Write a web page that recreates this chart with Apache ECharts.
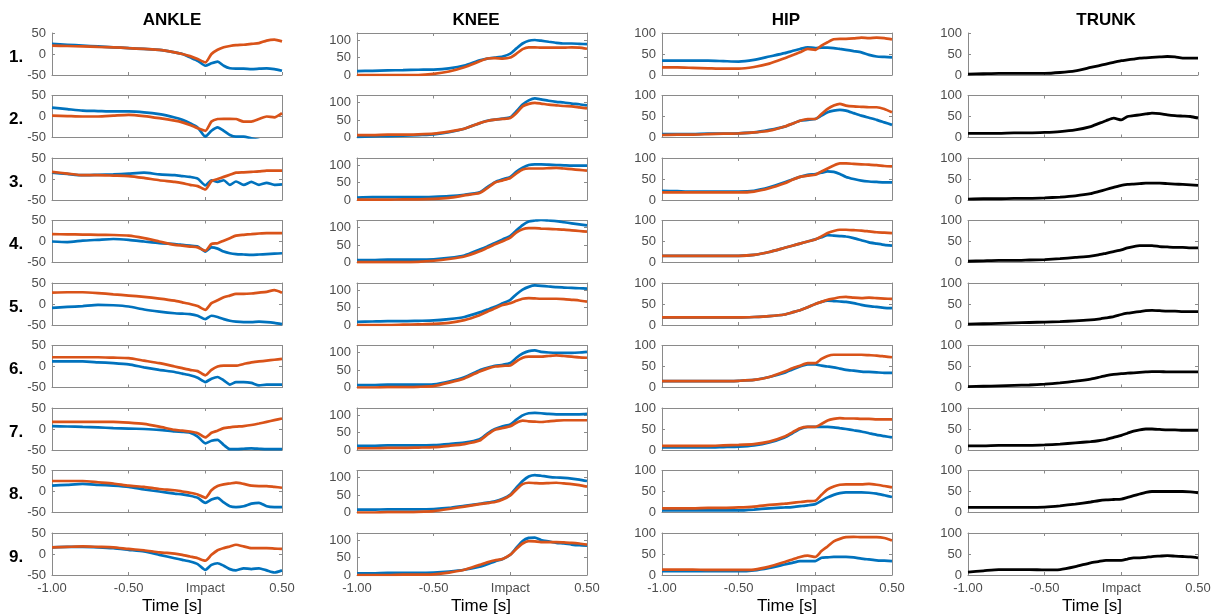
<!DOCTYPE html>
<html><head><meta charset="utf-8">
<script src="https://cdn.jsdelivr.net/npm/echarts@6/dist/echarts.min.js"></script>
<style>html,body{margin:0;padding:0;background:#fff}#c{width:1217px;height:616px}</style>
</head><body><div id="c"></div>
<script>
// ---------------- DATA ----------------
const T = [-1, -0.9, -0.8, -0.7, -0.6, -0.5, -0.4, -0.3, -0.2, -0.15, -0.1, -0.05, 0, 0.04, 0.08, 0.12, 0.16, 0.2, 0.25, 0.3, 0.35, 0.4, 0.45, 0.5];
const joints = ['ANKLE', 'KNEE', 'HIP', 'TRUNK'];
const rowLabels = ['1.', '2.', '3.', '4.', '5.', '6.', '7.', '8.', '9.'];
const xTickText = { '-1': '-1.00', '-0.5': '-0.50', '0': 'Impact', '0.5': '0.50' };
const xTitle = 'Time [s]';

const ankleBlue = [
  [24,22,20,18,16,14,12,10,4,0,-8,-16,-28,-22,-18,-28,-34,-35,-35,-36,-35,-34,-36,-40],
  [21,17.5,14,13,12,12,10,5.5,-2.4,-8,-16,-26,-48,-34,-26,-34,-44,-48,-48,-52,-56,-58,-60,-60],
  [15,12,9,10,11,13,15,11,9,7,5,1,-15,-3,-7,-3,-14,-6,-14,-7,-14,-9,-14,-13],
  [0,-1.5,2,4,6,4,0,-4,-6,-8,-10,-12,-24,-14,-17,-24,-28,-30,-31,-32,-31,-30,-29,-28],
  [-9,-7,-5,-2,-3,-6,-13,-18,-22,-23,-24,-28,-36,-28,-31,-36,-40,-42,-43,-43,-42,-43,-45,-48],
  [12,12,12,10,8,5,-2,-8,-13,-17,-21,-27,-37,-29,-25,-33,-43,-37,-37,-39,-45,-43,-43,-43],
  [7,6,5,4,2,1,0,-2,-6,-7,-9,-18,-34,-28,-26,-38,-48,-48,-47,-46,-47,-48,-48,-48],
  [14,16,18,16,14,11,5,0,-5,-7,-10,-15,-27,-19,-15,-26,-35,-37,-35,-29,-27,-35,-37,-37],
  [16,17,17,16,14,10,6,-2,-10,-14,-18,-24,-38,-26,-22,-28,-36,-39,-34,-36,-34,-39,-44,-39]
];
const ankleOrange = [
  [20,19,18,17,16,14,12,10,4,0,-5,-12,-20,0,10,16,19,21,22,24,26,32,34,30],
  [2,1,0,0,2,4,1,-4,-10,-14,-20,-28,-34,-12,-6,-5.5,-5.5,-6,-12,-12,-6,0,-2,8],
  [17,13,9,9,8,7,2.5,-3,-7,-10,-14,-17,-25,-5,0,5,10,15,16,17,18,20,20,20],
  [17.5,17,16.5,16,15.5,14,8,0,-8,-10,-12,-14,-22,-6,-4,2,8,14,16,17.5,19,20,20,20],
  [27,28,28,26,23,20,17,13,8,4,0,-5,-14,2,9,16,20,24,24,25,27,29,33,27],
  [22,22,22,22,21,20,14,8,0,-4,-8,-11,-21,-8,0,2,2,2,6,10,12,14,16,18],
  [17,17,17,17,17,15,12,5.5,-2,-4,-6,-10,-20,-9,-4,2,4,5.5,7,9.5,13,17,21,25],
  [25,25,25,22,19,14,11,6,3,0,-3,-7,-15,3,13,17,19,21,18,14,13,13,11,9],
  [16,17,18,17,16,12,9,4,1,-2,-6,-10,-16,-2,9,14,18,22,18,14,14,14,13,12]
];
const kneeBlue = [
  [11,12,13,14,15,15.5,19,27,42,47,50,53,61,76,90,98,100,98,95,92,90,90,89,88],
  [2,3,4,5,7,9,15,25,41,48,51,54,58,75,94,106,112,109,105,102,100,97,95,92],
  [7,8,8,8,8,9,11,15,22,37,51,59,66,81,92,100,102,102,101,100,99,98,98,98],
  [7,7,8,8,8,9,13,20,37,46,56,66,76,92,107,117,120,122,120,118,115,112,109,106],
  [9,10,11,11,12,13,17,23,36,44,52,62,72,88,101,109,113,112,110,108,107,106,105,104],
  [7,7,8,8,8,9,17,29,49,56,62,65,70,85,97,104,106,102,100,99,99,99,100,102],
  [12,12,13,13,13,14,17,21,31,47,60,68,73,87,99,105,106,105,103,102,102,102,102,103],
  [8,8,9,9,9,10,13,19,25,28,32,39,51,71,90,103,107,105,102,100,99,97,94,90],
  [5,5,6,6,6,7,10,15,24,31,39,46,58,78,97,106,107,100,96,92,90,87,85,84]
];
const kneeOrange = [
  [0,0,0,0,0,3,10,22,39,47,48.5,47,50,61,74,79,79,78,78,78,78,79,78,75],
  [7,7,8,8,9,11,17,25,41,47,51,53,56,70,89,96,99,97,94,92,90,89,86,83],
  [1,1,1,2,2,3,6,13,20,34,50,56,63,76,87,90,90,90,91,92,90,88,86,84],
  [1,1,1,1,2,5,10,17,32,42,52,61,71,86,95,98,98,97,96,95,94,92,90,88],
  [0,0,0,1,2,3,6,14,28,38,48,57,62,69,75,77,76,75,75,75,74,72,70,67],
  [0,0,1,1,2,4,14,26,46,54,60,62,63,75,85,88,88,88,90,92,90,88,86,85],
  [5,5,6,6,7,8,12,17,27,44,58,63,68,78,84,82,81,80,82,84,85,85,85,85],
  [0,0,1,1,2,4,10,17,24,27,30,37,49,66,81,85,84,83,84,85,83,81,78,74],
  [0,0,0,1,1,2,7,15,29,36,42,46,58,75,90,97,96,94,94,94,93,92,90,87]
];
const hipBlue = [
  [34,34,34,34,33,32,36,44,52,57,62,66,64,65,65,64,62,60,57,54,48,44,43,42],
  [8,8,8,9,9,10,12,18,26,33,40,42,44,52,60,64,66,64,58,52,47,42,36,30],
  [22,21,20,20,20,20,22,30,42,49,55,60,62,65,68,67,62,55,50,46,44,43,42,42],
  [16,16,16,16,16,16,18,25,35,40,45,50,55,60,65,64,63,62,58,53,48,45,42,40],
  [18,18,18,18,18,18,19,21,25,30,35,42,50,55,58,57,56,55,52,48,45,43,41,40],
  [15,15,15,15,15,16,18,25,35,43,50,55,55,52,50,48,45,42,40,38,37,36,35,35],
  [6,6,6,6,7,8,11,18,30,40,50,55,55,55,55,54,52,50,47,44,40,36,33,30],
  [5,5,5,5,5,5,7,10,12,13,15,17,20,28,36,42,46,48,48,48,47,45,41,37],
  [9,9,9,9,9,9,11,17,25,29,33,33,33,41,42,43,43,43,42,39,37,35,34,33]
];
const hipOrange = [
  [18,18,17,16,15,15,19,27,40,47,54,62,60,70,78,85,86,86,87,89,88,89,88,85],
  [6,7,7,8,9,10,12,16,26,33,40,44,44,56,68,76,80,76,74,73,72,72,68,60],
  [18,18,18,18,18,18,20,28,40,48,55,58,60,68,75,82,87,87,86,85,84,83,81,80],
  [16,16,16,16,16,16,18,25,35,40,45,50,55,62,70,75,78,78,77,76,74,72,71,70],
  [18,18,18,18,18,18,19,21,25,30,35,42,50,55,60,63,66,67,65,64,65,64,63,62],
  [15,15,15,15,15,16,18,25,38,46,52,58,58,68,75,78,78,78,78,78,77,76,74,72],
  [10,10,10,10,11,12,14,20,32,42,52,55,55,62,70,74,76,75,75,74,74,73,73,73],
  [10,10,10,11,11,12,14,18,21,23,25,27,28,42,55,62,66,67,67,67,68,66,63,60],
  [13,13,13,12,12,12,13,20,31,37,43,46,43,57,68,80,86,90,91,90,90,90,88,82]
];
const trunk = [
  [2,3,4,4,4,4,6,10,18,22,26,30,34,36,38,40,41,42,43,44,43,40,40,40],
  [10,10,10,11,11,12,14,18,26,33,40,46,42,50,52,54,56,58,57,54,52,51,50,46],
  [2,3,3,4,4,5,7,10,15,20,25,30,35,37,38,39,40,40,40,39,38,37,36,35],
  [3,4,5,5,6,7,9,12,15,18,22,26,30,35,38,40,40,40,38,37,36,36,35,35],
  [2,3,4,5,6,7,8,10,12,14,17,20,25,28,30,32,34,35,34,33,33,32,32,32],
  [2,3,4,5,6,8,11,15,20,24,28,31,33,34,35,36,37,38,38,37,37,37,37,37],
  [10,10,11,11,11,12,14,17,20,22,25,30,35,40,45,48,50,50,49,48,48,47,47,47],
  [12,12,12,12,12,13,16,20,25,28,30,31,32,36,40,44,48,50,50,50,50,50,49,47],
  [7,10,13,13,13,12,13,20,29,32,35,35,35,38,41,41,42,44,45,46,45,44,43,41]
];
const yRanges = { ANKLE: [-50, 50], KNEE: [0, 120], HIP: [0, 100], TRUNK: [0, 100] };
const yTickValues = { ANKLE: [-50, 0, 50], KNEE: [0, 50, 100], HIP: [0, 50, 100], TRUNK: [0, 50, 100] };

// ---------------- LAYOUT / STYLE ----------------
const colLeft = [52, 357, 662, 968];
const panelW = 230, panelH = 42, rowTop0 = 33, rowStep = 62.5;
const titleX = [172, 476, 786, 1106];
const timeX = [172, 481, 787, 1092];
const BLUE = '#0072BD', ORANGE = '#D95319', BLACK = '#000000';
const AX = '#8a8a8a', LB = '#4d4d4d';
const FONT = '"Liberation Sans", Arial, sans-serif';
const openPanels = ['ANKLE-0', 'TRUNK-0'];

const seriesByJoint = {
  ANKLE: [[ankleBlue, BLUE], [ankleOrange, ORANGE]],
  KNEE: [[kneeBlue, BLUE], [kneeOrange, ORANGE]],
  HIP: [[hipBlue, BLUE], [hipOrange, ORANGE]],
  TRUNK: [[trunk, BLACK]]
};

const grids = [], xAxes = [], yAxes = [], series = [], graphics = [];
joints.forEach((j, c) => {
  for (let r = 0; r < 9; r++) {
    const gi = grids.length;
    const noBox = openPanels.includes(j + '-' + r);
    grids.push({ left: colLeft[c], top: rowTop0 + r * rowStep, width: panelW, height: panelH,
      containLabel: false, outerBoundsMode: 'none' });
    const tick = { show: true, inside: true, length: 3, lineStyle: { color: AX, width: 1 } };
    const line = (show) => ({ show, onZero: false, lineStyle: { color: AX, width: 1 } });
    xAxes.push({ gridIndex: gi, type: 'value', min: -1, max: 0.5, interval: 0.5, position: 'bottom',
      axisLine: line(true), axisTick: tick, splitLine: { show: false },
      axisLabel: { show: r === 8, fontSize: 13, color: LB, fontFamily: FONT, margin: 7,
        formatter: v => xTickText[String(v)] ?? '' } });
    xAxes.push({ gridIndex: gi, type: 'value', min: -1, max: 0.5, interval: 0.5, position: 'top',
      axisLine: line(!noBox), axisTick: Object.assign({}, tick, { show: !noBox }),
      splitLine: { show: false }, axisLabel: { show: false } });
    const [mn, mx] = yRanges[j];
    const tv = yTickValues[j];
    yAxes.push({ gridIndex: gi, type: 'value', min: mn, max: mx, interval: 50, position: 'left',
      axisLine: line(true), axisTick: tick, splitLine: { show: false },
      axisLabel: { show: true, fontSize: 13, color: LB, fontFamily: FONT, margin: 6,
        showMaxLabel: true, formatter: v => tv.includes(v) ? String(v) : '' } });
    yAxes.push({ gridIndex: gi, type: 'value', min: mn, max: mx, interval: 50, position: 'right',
      axisLine: line(!noBox), axisTick: Object.assign({}, tick, { show: !noBox }),
      splitLine: { show: false }, axisLabel: { show: false } });
    seriesByJoint[j].forEach(([arr, col]) => {
      series.push({ type: 'line', xAxisIndex: gi * 2, yAxisIndex: gi * 2, clip: true,
        data: T.map((t, i) => [t, arr[r][i]]), showSymbol: false, symbol: 'none', smooth: 0.2,
        lineStyle: { color: col, width: col === BLACK ? 2.8 : 2.7 }, itemStyle: { color: col },
        z: 3, silent: true });
    });
  }
  graphics.push({ type: 'text', x: titleX[c], y: 20, style: { text: j, font: 'bold 17px ' + FONT,
    fill: '#000', textAlign: 'center', textVerticalAlign: 'middle' } });
  graphics.push({ type: 'text', x: timeX[c], y: 606, style: { text: xTitle, font: '17px ' + FONT,
    fill: '#000', textAlign: 'center', textVerticalAlign: 'middle' } });
});
rowLabels.forEach((t, r) => {
  graphics.push({ type: 'text', x: 9, y: rowTop0 + r * rowStep + panelH / 2 + 3,
    style: { text: t, font: 'bold 17px ' + FONT, fill: '#000', textAlign: 'left', textVerticalAlign: 'middle' } });
});

const chart = echarts.init(document.getElementById('c'), null, { renderer: 'canvas' });
chart.setOption({ animation: false, backgroundColor: '#fff', grid: grids, xAxis: xAxes, yAxis: yAxes,
  series, graphic: graphics });
</script></body></html>
